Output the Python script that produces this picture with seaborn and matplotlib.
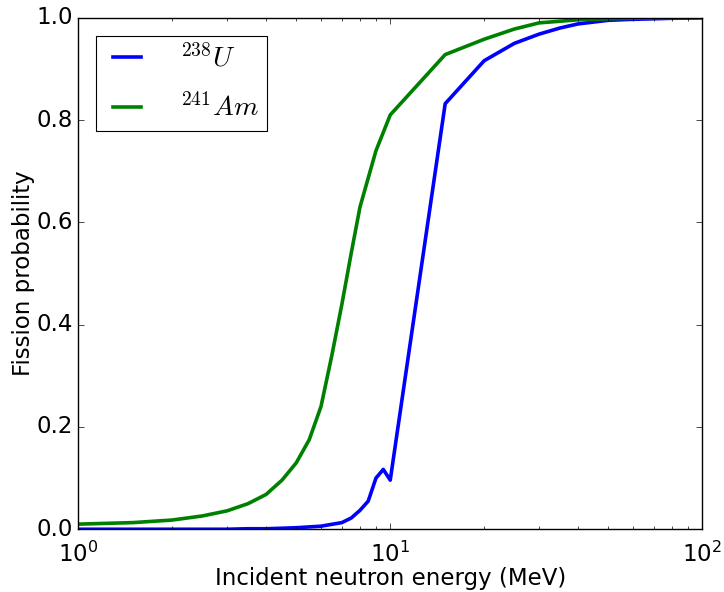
import pandas as pd
import seaborn as sns
import matplotlib.pyplot as plt
from matplotlib.ticker import LogLocator

# energies (MeV) and fission probabilities
u_energy = [1, 1.5, 2, 2.5, 3, 3.5, 4, 4.5, 5, 6, 7, 7.5, 8, 8.5, 9, 9.5, 10, 15, 20, 25, 30, 35, 40, 50, 60, 70, 80, 100]
u_prob = [0.0, 0.0, 0.0, 0.0, 0.0, 0.001, 0.001, 0.002, 0.003, 0.006, 0.013, 0.022, 0.037, 0.055, 0.1, 0.117, 0.096,
          0.832, 0.916, 0.95, 0.968, 0.98, 0.988, 0.995, 0.997, 0.998, 0.999, 1.0]
am_energy = [1, 1.5, 2, 2.5, 3, 3.5, 4, 4.5, 5, 5.5, 6, 6.5, 7, 7.5, 8, 9, 10, 15, 20, 25, 30, 40, 50, 60, 80, 100]
am_prob = [0.01, 0.013, 0.018, 0.026, 0.036, 0.05, 0.068, 0.096, 0.13, 0.175, 0.24, 0.34, 0.44, 0.54, 0.63, 0.74, 0.81,
           0.928, 0.958, 0.978, 0.99, 0.996, 0.998, 0.999, 1.0, 1.0]
labels = [r'$^{238}U$', r'$^{241}Am$']
colors = ['#0000ff', '#008000']

df = pd.concat([
    pd.DataFrame({'energy': u_energy, 'prob': u_prob, 'isotope': labels[0]}),
    pd.DataFrame({'energy': am_energy, 'prob': am_prob, 'isotope': labels[1]}),
])

plt.style.use('classic')
fig = plt.figure(figsize=(7.24, 5.92), dpi=100, facecolor='white')
ax = fig.add_axes([0.108, 0.106, 0.862, 0.864])

sns.lineplot(data=df, x='energy', y='prob', hue='isotope', palette=colors, linewidth=2.6, ax=ax, sort=False)

ax.set_xscale('log')
ax.set_xlim(1, 100)
ax.set_ylim(0, 1)
ax.set_yticks([0, 0.2, 0.4, 0.6, 0.8, 1.0])
ax.set_yticklabels(['0.0', '0.2', '0.4', '0.6', '0.8', '1.0'])
ax.xaxis.set_minor_locator(LogLocator(base=10, subs=range(2, 10)))
ax.tick_params(labelsize=16.5)
ax.tick_params(axis='x', which='major', pad=9)
ax.set_xlabel('Incident neutron energy (MeV)', fontsize=16.5, labelpad=0)
ax.set_ylabel('Fission probability', fontsize=16.5, labelpad=1)

leg = ax.legend(loc='upper left', fontsize=20, handlelength=1.6, borderpad=0.3, labelspacing=0.75,
                handletextpad=1.1, borderaxespad=0.65)
leg.get_frame().set_linewidth(0.8)
for t in leg.get_texts():
    t.set_math_fontfamily('cm')

fig.savefig('out.png', dpi=100, facecolor='white')
